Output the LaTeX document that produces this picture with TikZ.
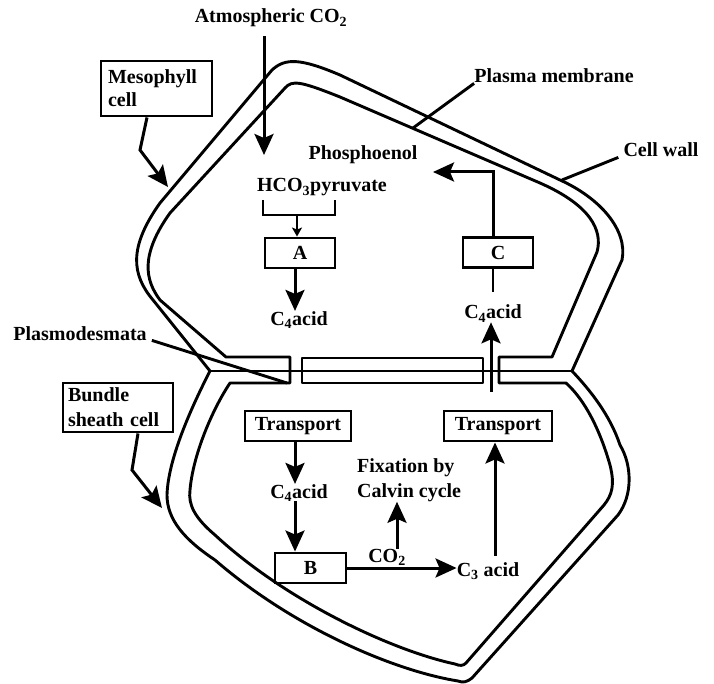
\documentclass[tikz,border=0pt]{standalone}
\usepackage{fontspec}
\setmainfont{Liberation Serif}
\usetikzlibrary{arrows.meta}
\begin{document}
\begin{tikzpicture}[x=1pt,y=-1pt,
  every node/.style={inner sep=0pt, font=\fontsize{20}{24}\selectfont\bfseries},
  txt/.style={anchor=base},
  box/.style={draw, line width=2.9pt, minimum height=30pt},
  lblbox/.style={draw, line width=2.9pt, align=left},
  wall/.style={line width=2.9pt, line join=round},
  lead/.style={line width=2.9pt},
  arr/.style={line width=3pt, -{Stealth[length=21pt,width=19pt,inset=4pt]}},
  sarr/.style={line width=2.2pt, -{Stealth[length=9pt,width=10pt,inset=2pt]}}]
\useasboundingbox (0,0) rectangle (714,684);

% ---- cell walls (outer lines) ----
\draw[wall] (210,371) -- (153,300) .. controls (132,275) and (128,248) .. (160,203)
  -- (272,70) .. controls (285,58) and (300,58) .. (340,75)
  -- (560,180) .. controls (600,198) and (628,230) .. (622,260) -- (572,371);
\draw[wall] (210,371) .. controls (190,410) and (168,460) .. (167,495)
  .. controls (167,520) and (185,540) .. (215,560)
  .. controls (290,625) and (390,670) .. (458,681)
  .. controls (463,683) and (467,682) .. (472,678)
  -- (618,515) .. controls (633,495) and (632,465) .. (620,445)
  .. controls (610,415) and (590,390) .. (572,371);
\draw[wall] (210,371) -- (572,371);

% ---- plasma membranes (one closed line through the pores) ----
\draw[wall] (290,357) -- (226,357) -- (160,300) .. controls (145,280) and (140,255) .. (170,213)
  -- (285,88) .. controls (292,80) and (300,81) .. (340,97)
  -- (540,183) .. controls (590,205) and (603,230) .. (597,252)
  -- (552,357) -- (499,357) -- (499,383) -- (566,383)
  .. controls (585,400) and (600,430) .. (610,465)
  .. controls (615,485) and (612,495) .. (604,505)
  -- (466,663) .. controls (463,666) and (460,666) .. (455,664)
  .. controls (390,650) and (285,600) .. (215,535)
  .. controls (195,518) and (188,505) .. (190,490)
  .. controls (193,455) and (212,410) .. (230,383)
  -- (290,383) -- cycle;
\draw[wall] (302,358) rectangle (483,383);

% ---- text labels and boxes ----
\node[txt] (atm) at (271,23) {Atmospheric CO\textsubscript{2}};
\node[txt] (pep) at (363,160) {Phosphoenol};
\node[txt] (hco) at (322,192) {HCO\textsubscript{3}pyruvate};
\node[box, minimum width=70pt] (A) at (300,253) {A};
\node[box, minimum width=70pt] (C) at (498,252.5) {C};
\node[txt] (c4a) at (299,325) {C\textsubscript{4}acid};
\node[txt] (c4b) at (493,319) {C\textsubscript{4}acid};
\node[box, minimum width=106pt] (T1) at (298,426) {Transport};
\node[box, minimum width=108pt] (T2) at (498,426) {Transport};
\node[txt] (c4c) at (299,498) {C\textsubscript{4}acid};
\node[box, minimum width=71pt] (B) at (310.5,568) {B};
\node[txt] (co2) at (387,562) {CO\textsubscript{2}};
\node[anchor=west, align=left, font=\fontsize{20}{25}\selectfont\bfseries] (fix) at (357,480) {Fixation by\\Calvin cycle};
\node[txt] (c3) at (488,576) {C\textsubscript{3} acid};
\node[txt] (pm) at (554,83) {Plasma membrane};
\node[txt] (cw) at (661,157) {Cell wall};
\node[txt] (pd) at (80,340) {Plasmodesmata};
\node[lblbox, text width=97pt, inner xsep=7pt, minimum height=55pt,
  font=\fontsize{20}{23}\selectfont\bfseries] (meso) at (156.5,88.5) {Mesophyll\\cell};
\node[lblbox, text width=100pt, inner xsep=5pt, minimum height=49pt,
  font=\fontsize{20}{25}\selectfont\bfseries] (bund) at (118,407.5) {Bundle\\sheath cell};

% ---- coordinates ----
\coordinate (colL) at (295,0);
\coordinate (colF) at (397,0);
\coordinate (colR) at (495,0);
\coordinate (colR2) at (491,0);
\coordinate (colC) at (493,0);
\coordinate (atmTip) at (264,155);
\coordinate (pepTip) at (433,172);
\coordinate (brL) at (263,200);
\coordinate (brBL) at (263,215);
\coordinate (brBR) at (335,215);
\coordinate (brR) at (335,200);
\coordinate (brM) at (297,215);
\coordinate (pmTip) at (413,128);
\coordinate (cwTip) at (562,180);
\coordinate (pdTip) at (287,383);
\coordinate (mesoBend) at (140,150);
\coordinate (mesoTip) at (168,187);
\coordinate (bundBend) at (132,470);
\coordinate (bundTip) at (162,508);

% ---- connectors ----
\draw[arr, shorten <=9pt] (atm.south -| atmTip) -- (atmTip);
\draw[line width=2.6pt] (brL) -- (brBL) -- (brBR) -- (brR);
\draw[sarr] (brM) -- (A.north -| brM);
\draw[arr] (A.south -| colL) -- (c4a.north -| colL);
\draw[arr] (T1.south -| colL) -- (c4c.north -| colL);
\draw[arr] (c4c.south -| colL) -- (B.north -| colL);
\draw[arr] (B.east) -- (c3.west |- B.east);
\draw[arr] (co2.north -| colF) -- (fix.south -| colF);
\draw[arr, shorten <=6pt] (c3.north -| colR) -- (T2.south -| colR);
\draw[arr, shorten <=18pt] (T2.north -| colR2) -- (c4b.south -| colR2);
\draw[lead, shorten >=13pt] (C.south -| colC) -- (c4b.north -| colC);
\draw[arr] (C.north -| colC) |- (pepTip);
\draw[lead] (pm.south west) -- (pmTip);
\draw[lead] ([xshift=-5pt]cw.south west) -- (cwTip);
\draw[lead] ([xshift=5pt]pd.south east) -- (pdTip);
\draw[arr] ([xshift=-9.5pt]meso.south) -- (mesoBend) -- (mesoTip);
\draw[arr] ([xshift=20pt]bund.south) -- (bundBend) -- (bundTip);
\end{tikzpicture}
\end{document}
